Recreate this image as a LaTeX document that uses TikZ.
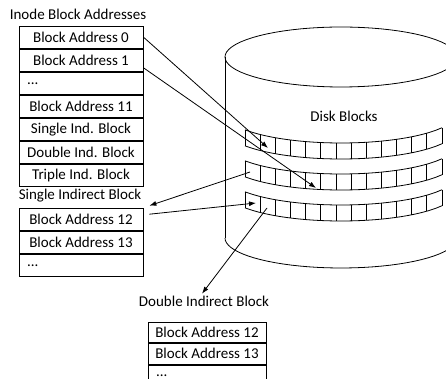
\documentclass[tikz,border=0pt]{standalone}
\usepackage{fontspec}
\setmainfont{Carlito}
\usetikzlibrary{positioning,arrows.meta}
\tikzset{
  addr/.style={draw, minimum width=124pt, minimum height=22.3pt, inner sep=0pt,
    font=\fontsize{15}{18}\selectfont},
  addrdots/.style={addr, text width=108pt, align=left, inner xsep=8pt},
  narrow/.style={minimum width=118pt, minimum height=20.7pt},
  tablehead/.style={anchor=base, inner sep=2pt, font=\fontsize{15}{18}\selectfont},
  ptr/.style={-{Latex[length=7pt,width=5pt]}},
}
\begin{document}
\begin{tikzpicture}[x=1pt, y=-1pt, line width=0.8pt]
  \useasboundingbox (0,0) rectangle (446,379);
  \clip (0,0) rectangle (446,379);
  % inode table
  \node[tablehead] (ititle) at (78,20) {Inode Block Addresses};
  \node[addr] (i0) at (81,37.1) {Block Address 0};
  \node[addr, below=0pt of i0] (i1) {Block Address 1};
  \node[addrdots, below=0pt of i1] (i2) {...};
  \node[addr, below=0pt of i2] (i3) {Block Address 11};
  \node[addr, below=0pt of i3] (i4) {Single Ind. Block};
  \node[addr, below=0pt of i4] (i5) {Double Ind. Block};
  \node[addr, below=0pt of i5] (i6) {Triple Ind. Block};
  % single indirect block
  \node[tablehead] (stitle) at (80,199) {Single Indirect Block};
  \node[addr] (s0) at (81,219.2) {Block Address 12};
  \node[addr, below=0pt of s0] (s1) {Block Address 13};
  \node[addrdots, below=0pt of s1] (s2) {...};
  % double indirect block
  \node[tablehead] (dtitle) at (204,306.5) {Double Indirect Block};
  \node[addr, narrow] (d0) at (207,332.3) {Block Address 12};
  \node[addr, narrow, below=0pt of d0] (d1) {Block Address 13};
  \node[addrdots, narrow, text width=102pt, below=0pt of d1] (d2) {...};
  % disk
  \draw plot[domain=0:360, samples=73] ({341+116*cos(\x)}, {57+30*sin(\x)}) -- cycle;
  \draw (225,57) -- (225,238);
  \draw (457,57) -- (457,238);
  \draw plot[domain=180:360, samples=40] ({341+116*cos(\x)}, {238-30*sin(\x)});
  \node[tablehead] (dlabel) at (344,121.5) {Disk Blocks};
  \foreach \Y in {113,144,175}{
    \draw plot[domain=245:442, samples=30] (\x, {\Y+30*sqrt(1-(\x-341)*(\x-341)/13456)});
    \draw plot[domain=245:442, samples=30] (\x, {\Y+16+30*sqrt(1-(\x-341)*(\x-341)/13456)});
    \foreach \i in {0,...,13}{
      \pgfmathsetmacro\cx{245+\i*197/13}
      \pgfmathsetmacro\cy{\Y+30*sqrt(1-(\cx-341)*(\cx-341)/13456)}
      \draw (\cx,\cy) -- (\cx,\cy+16);
    }
  }
  \coordinate (c0) at (268,148);
  \coordinate (c1) at (316,188);
  \coordinate (c2) at (250,172);
  \coordinate (c3) at (256,203);
  \coordinate (c4) at (267,208);
  \begin{scope}[ptr]
    \draw (i0.east) -- (c0);
    \draw ([yshift=4pt]i1.south east) -- (c1);
    \draw (c2) -- ([xshift=6pt,yshift=2pt]s0.north east);
    \draw ([xshift=6pt,yshift=5pt]s0.east) -- (c3);
    \draw (c4) -- ([xshift=-2pt]dtitle.north);
  \end{scope}
\end{tikzpicture}
\end{document}
